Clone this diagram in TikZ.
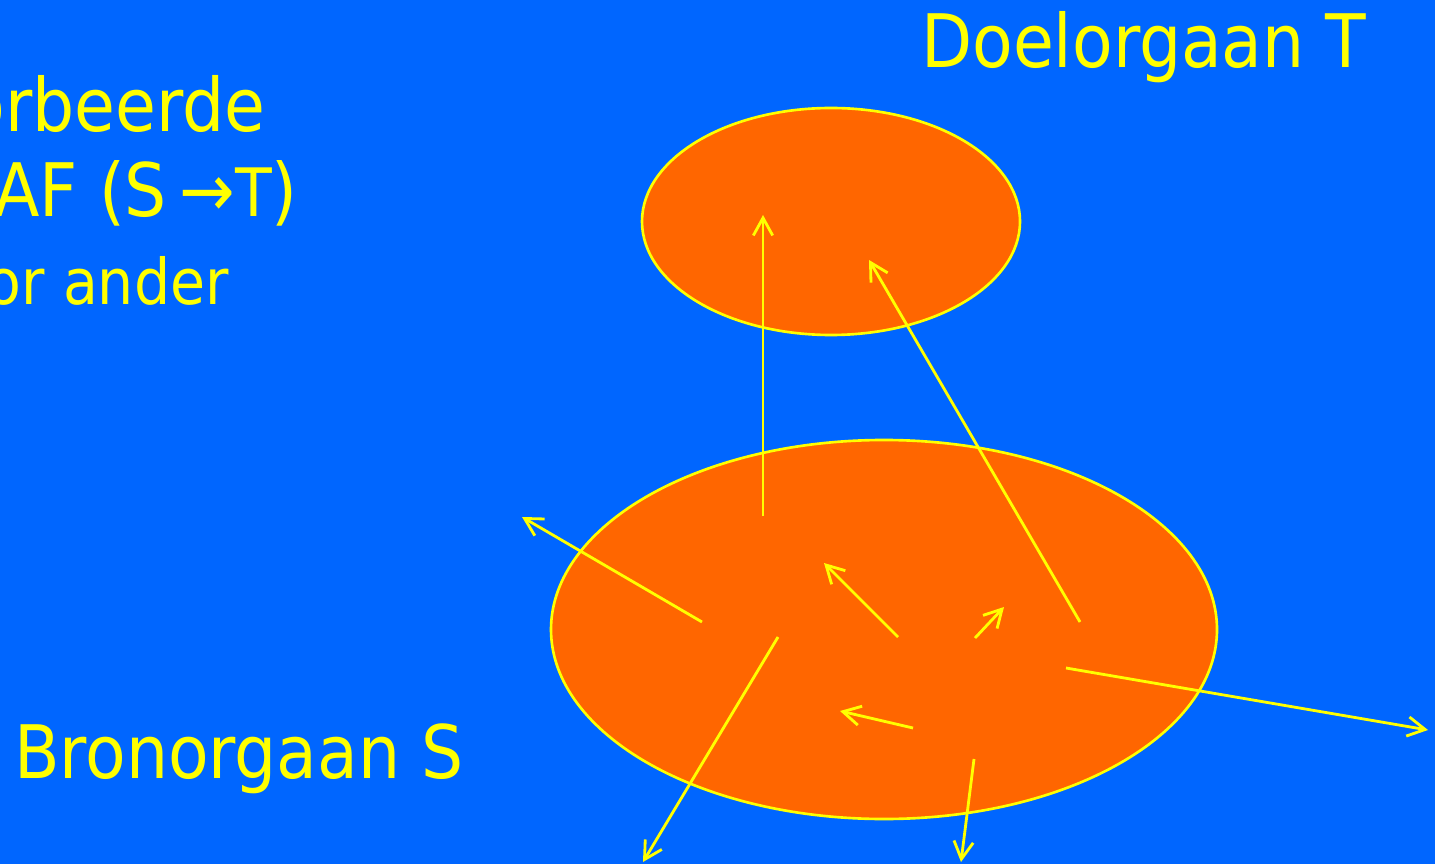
\documentclass[tikz,border=0pt]{standalone}
\usepackage{fontspec}
\setmainfont{DejaVu Sans Condensed}
\usetikzlibrary{arrows.meta}
\definecolor{slidebg}{HTML}{0066FF}
\definecolor{organ}{HTML}{FF6600}
\definecolor{ray}{HTML}{FFFF00}

\begin{document}
\begin{tikzpicture}[x=0.02cm,y=-0.02cm,
  lbl/.style={inner sep=0pt,text=ray,font=\fontsize{42pt}{50pt}\selectfont},
  sublbl/.style={inner sep=0pt,text=ray,font=\fontsize{36pt}{42pt}\selectfont},
  orgaan/.style={fill=organ,draw=ray,line width=1.5pt},
  straal/.style={-{Straight Barb[length=10pt,width=11pt,line width=1.6pt]},line width=1.6pt,draw=ray},
]
  \useasboundingbox (0,0) rectangle (1435,864);
  \clip (0,0) rectangle (1435,864);
  \fill[slidebg] (0,0) rectangle (1435,864);

  % organen
  \draw[orgaan] (831,221.5) ellipse [x radius=189,y radius=113.5];
  \draw[orgaan] (884,629.5) ellipse [x radius=333,y radius=189.5];

  % teksten
  \node[lbl,anchor=base west] (doel) at (921,68) {Doelorgaan T};
  \node[lbl,anchor=base west] (bron) at (14,778) {Bronorgaan S};
  \node[lbl,anchor=base east] (regel1) at (266,132) {orbeerde};
  \node[lbl,anchor=base east] (regel2) at (298,217) {AF (S\,→{\fontsize{38pt}{45pt}\selectfont T})};
  \node[sublbl,anchor=base east] (regel3) at (229,305) {or ander};

  % stralen
  \foreach \van/\naar in {{(763,516)}/{(763,215)},{(1080,622)}/{(869,260)},
      {(702,622)}/{(522,517)},{(898,637)}/{(824,563)},{(975,638)}/{(1004,607)},
      {(913,728)}/{(840,711)},{(778,637)}/{(643,862)},{(974,759)}/{(961,862)},
      {(1066,668)}/{(1428,730)}}
    \draw[straal] \van -- \naar;
\end{tikzpicture}
\end{document}
